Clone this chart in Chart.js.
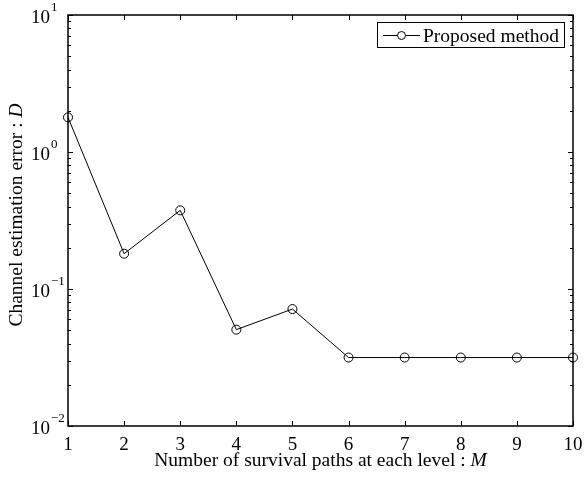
<!DOCTYPE html>
<html>
<head>
<meta charset="utf-8">
<script src="https://cdn.jsdelivr.net/npm/chart.js@4.4.1/dist/chart.umd.min.js"></script>
<style>
  html, body { margin: 0; padding: 0; background: #fff; }
  #wrap { width: 584px; height: 477px; }
</style>
</head>
<body>
<div id="wrap"><canvas id="c" width="584" height="477"></canvas></div>
<script>
const categories = [1, 2, 3, 4, 5, 6, 7, 8, 9, 10];
const proposedMethod = [1.79, 0.181, 0.375, 0.0505, 0.0714, 0.0316, 0.0316, 0.0316, 0.0316, 0.0316];
const xTicks = [1, 2, 3, 4, 5, 6, 7, 8, 9, 10];
const yExponents = [-2, -1, 0, 1];
const seriesLabel = 'Proposed method';
const xTitle = 'Number of survival paths at each level : ';
const xTitleVar = 'M';
const yTitle = 'Channel estimation error : ';
const yTitleVar = 'D';

const FONT = '"Liberation Serif", "Times New Roman", serif';
const TITLE_PX = '19.5px ';
const TICK_PX = '19px ';

const axesPlugin = {
  id: 'matlabAxes',
  afterDraw(chart) {
    const ctx = chart.ctx;
    const a = chart.chartArea;
    const xs = chart.scales.x, ys = chart.scales.y;
    ctx.save();
    ctx.strokeStyle = '#000';
    ctx.fillStyle = '#000';
    // box
    ctx.lineWidth = 1.5;
    ctx.strokeRect(a.left, a.top, a.right - a.left, a.bottom - a.top);
    // x ticks
    ctx.lineWidth = 1;
    xTicks.forEach(v => {
      const px = Math.round(xs.getPixelForValue(v)) + 0.5;
      ctx.beginPath();
      ctx.moveTo(px, a.bottom); ctx.lineTo(px, a.bottom - 5);
      ctx.moveTo(px, a.top); ctx.lineTo(px, a.top + 5);
      ctx.stroke();
    });
    // y ticks (major + minor)
    yExponents.forEach((e, i) => {
      const base = Math.pow(10, e);
      const py = Math.round(ys.getPixelForValue(base)) + 0.5;
      ctx.beginPath();
      ctx.moveTo(a.left, py); ctx.lineTo(a.left + 5, py);
      ctx.moveTo(a.right, py); ctx.lineTo(a.right - 5, py);
      ctx.stroke();
      if (i < yExponents.length - 1) {
        for (let m = 2; m <= 9; m++) {
          const my = Math.round(ys.getPixelForValue(m * base)) + 0.5;
          ctx.beginPath();
          ctx.moveTo(a.left, my); ctx.lineTo(a.left + 3, my);
          ctx.moveTo(a.right, my); ctx.lineTo(a.right - 3, my);
          ctx.stroke();
        }
      }
    });
    // x tick labels
    ctx.font = TICK_PX + FONT;
    ctx.textAlign = 'center';
    ctx.textBaseline = 'alphabetic';
    xTicks.forEach(v => {
      ctx.fillText(String(v), xs.getPixelForValue(v), a.bottom + 24);
    });
    // y tick labels with superscript
    yExponents.forEach(e => {
      const py = ys.getPixelForValue(Math.pow(10, e));
      ctx.font = TICK_PX + FONT;
      ctx.textAlign = 'right';
      ctx.fillText('10', 50, py + 8);
      ctx.font = '13px ' + FONT;
      ctx.textAlign = 'left';
      ctx.fillText(e < 0 ? '\u2212' + Math.abs(e) : String(e), 51, py - 4);
    });
    // x title
    ctx.font = TITLE_PX + FONT;
    const w1 = ctx.measureText(xTitle).width;
    ctx.font = 'italic ' + TITLE_PX + FONT;
    const w2 = ctx.measureText(xTitleVar).width;
    const cx = (a.left + a.right) / 2;
    let sx = cx - (w1 + w2) / 2;
    ctx.textAlign = 'left';
    ctx.font = TITLE_PX + FONT;
    ctx.fillText(xTitle, sx, 466);
    ctx.font = 'italic ' + TITLE_PX + FONT;
    ctx.fillText(xTitleVar, sx + w1, 466);
    // y title
    ctx.save();
    ctx.translate(22, 215);
    ctx.rotate(-Math.PI / 2);
    ctx.font = TITLE_PX + FONT;
    const v1 = ctx.measureText(yTitle).width;
    ctx.font = 'italic ' + TITLE_PX + FONT;
    const v2 = ctx.measureText(yTitleVar).width;
    let sy = -(v1 + v2) / 2;
    ctx.font = TITLE_PX + FONT;
    ctx.fillText(yTitle, sy, 0);
    ctx.font = 'italic ' + TITLE_PX + FONT;
    ctx.fillText(yTitleVar, sy + v1, 0);
    ctx.restore();
    // legend
    const lx = 377, ly = 22, lw = 187, lh = 25;
    ctx.fillStyle = '#fff';
    ctx.fillRect(lx, ly, lw, lh);
    ctx.lineWidth = 1;
    ctx.strokeStyle = '#000';
    ctx.strokeRect(lx + 0.5, ly + 0.5, lw, lh);
    ctx.beginPath();
    ctx.moveTo(383, 35.5); ctx.lineTo(420, 35.5);
    ctx.stroke();
    ctx.beginPath();
    ctx.arc(401.5, 35.5, 4, 0, Math.PI * 2);
    ctx.fillStyle = '#fff';
    ctx.fill();
    ctx.stroke();
    ctx.fillStyle = '#000';
    ctx.font = TITLE_PX + FONT;
    ctx.textAlign = 'left';
    ctx.fillText(seriesLabel, 423, 41.5);
    ctx.restore();
  }
};

new Chart(document.getElementById('c'), {
  type: 'line',
  data: {
    datasets: [{
      label: seriesLabel,
      data: categories.map((x, i) => ({ x: x, y: proposedMethod[i] })),
      borderColor: '#000',
      borderWidth: 1,
      pointRadius: 4.5,
      pointHoverRadius: 4.5,
      pointBorderWidth: 1,
      pointBorderColor: '#000',
      pointBackgroundColor: 'rgba(0,0,0,0)',
      tension: 0,
      clip: false,
      fill: false
    }]
  },
  options: {
    responsive: false,
    animation: false,
    events: [],
    layout: { padding: { top: 15, right: 11, left: 0, bottom: 0 } },
    plugins: { legend: { display: false }, tooltip: { enabled: false } },
    scales: {
      x: {
        type: 'linear', min: 1, max: 10,
        grid: { display: false },
        border: { display: false },
        ticks: { display: false },
        afterFit(s) { s.height = 51; }
      },
      y: {
        type: 'logarithmic', min: 0.01, max: 10,
        grid: { display: false },
        border: { display: false },
        ticks: { display: false },
        afterFit(s) { s.width = 68; }
      }
    }
  },
  plugins: [axesPlugin]
});
</script>
</body>
</html>
